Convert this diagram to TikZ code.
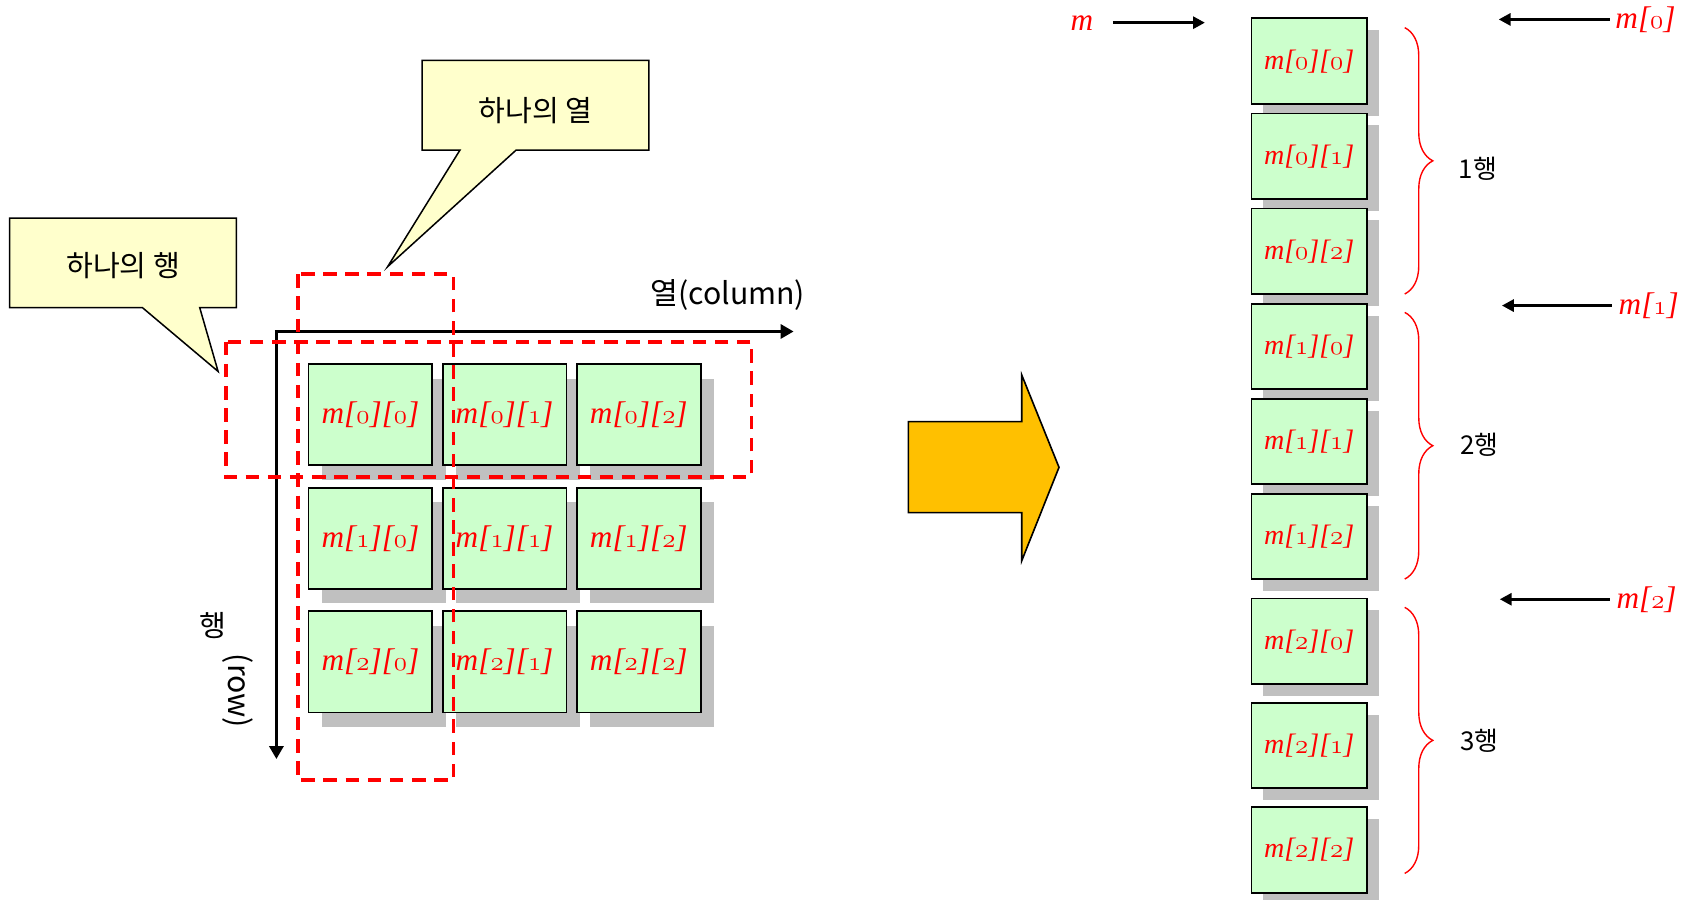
\documentclass[tikz,border=0pt]{standalone}
\usepackage{fontspec}
\newfontfamily\kr{Noto Sans CJK KR}
\newfontfamily\lser{Liberation Serif}
\usetikzlibrary{shadows,arrows.meta,decorations.pathreplacing}
\definecolor{cellgreen}{HTML}{CCFFCC}
\definecolor{shgray}{HTML}{C0C0C0}
\definecolor{callfill}{HTML}{FFFFCC}
\definecolor{bigorange}{HTML}{FFC000}
\newcommand\osn[1]{{\usefont{OML}{cmm}{m}{it}#1}}
\newcommand\mij[2]{\lser\itshape m[\osn{#1}][\osn{#2}]}
\newcommand\mi[1]{\lser\itshape m[\osn{#1}]}
\tikzset{
  lcell/.style={draw=black, line width=1.6pt, fill=cellgreen,
    minimum width=114.6pt, minimum height=93.7pt, inner sep=0pt,
    font=\fontsize{29}{29}\selectfont, text=red,
    drop shadow={shadow xshift=12.5pt, shadow yshift=-13.5pt, opacity=1, fill=shgray, draw=none}},
  rcell/.style={draw=black, line width=1.6pt, fill=cellgreen,
    minimum width=107pt, minimum height=79.3pt, inner sep=0pt,
    font=\fontsize{26}{26}\selectfont, text=red,
    drop shadow={shadow xshift=11pt, shadow yshift=-11pt, opacity=1, fill=shgray, draw=none}},
  callout/.style={draw=black, line width=1.4pt, fill=callfill},
  kortext/.style={font=\kr\fontsize{27}{27}\selectfont, inner sep=0pt},
  kortextsm/.style={font=\kr\fontsize{24}{24}\selectfont, inner sep=0pt},
  reddash/.style={draw=red, line width=3.5pt, dash pattern=on 12.5pt off 8pt},
  axarr/.style={draw=black, line width=2.8pt, -{Triangle[length=12pt,width=13pt]}},
  blarr/.style={draw=black, line width=2.8pt, -{Triangle[length=11pt,width=11pt]}},
  rlab/.style={text=red, font=\fontsize{29}{29}\selectfont, inner sep=2pt},
  rbrace/.style={draw=red, line width=1.3pt, decorate, decoration={brace, amplitude=26pt}},
  bigarr/.style={draw=black, line width=1.5pt, fill=bigorange, line join=miter},
}
\begin{document}
\begin{tikzpicture}[x=1pt, y=-1pt]
\useasboundingbox (0,0) rectangle (1568,833);

% callouts
\draw[callout] (9,202) -- (219,202) -- (219,285) -- (185,285) -- (202,344) -- (132,285) -- (9,285) -- cycle;
\node[kortext] (rowcall) at (114,246) {하나의 행};
\draw[callout] (391,56) -- (601,56) -- (601,139) -- (478,139) -- (359,247) -- (426,139) -- (391,139) -- cycle;
\node[kortext] (colcall) at (496,102) {하나의 열};

% axes
\coordinate (O) at (256,307);
\coordinate (X) at (735,307);
\coordinate (Y) at (256,703);
\draw[axarr] ([xshift=-1.4pt]O) -- (X);
\draw[axarr] (O) -- (Y);
\node[kortext, font=\kr\fontsize{28}{28}\selectfont] (collab) at (674,273) {열(column)};
\node[kortext] (rowlab1) at (197,579) {행};
\node[kortext, font=\kr\fontsize{28}{28}\selectfont, rotate=-90] (rowlab2) at (220,640) {(row)};

% left grid
\node[lcell] (a00) at (343.1,383.9) {\mij00};
\node[lcell] (a01) at (467.3,383.9) {\mij01};
\node[lcell] (a02) at (591.6,383.9) {\mij02};
\node[lcell] (a10) at (343.1,498.5) {\mij10};
\node[lcell] (a11) at (467.3,498.5) {\mij11};
\node[lcell] (a12) at (591.6,498.5) {\mij12};
\node[lcell] (a20) at (343.1,613.0) {\mij20};
\node[lcell] (a21) at (467.3,613.0) {\mij21};
\node[lcell] (a22) at (591.6,613.0) {\mij22};

% dashed boxes
\draw[reddash] (209,316.5) rectangle (696,441.5);
\draw[reddash] (276,254) rectangle (420,722.4);

% big arrow
\draw[bigarr] (841.3,390.5) -- (946.3,390.5) -- (946.3,347.3) -- (980.8,432.8) -- (946.3,519.3) -- (946.3,474.8) -- (841.3,474.8) -- cycle;

% right column
\node[rcell] (b00) at (1212.5,56.65) {\mij00};
\node[rcell] (b01) at (1212.5,144.65) {\mij01};
\node[rcell] (b02) at (1212.5,232.65) {\mij02};
\node[rcell] (b10) at (1212.5,320.95) {\mij10};
\node[rcell] (b11) at (1212.5,408.85) {\mij11};
\node[rcell] (b12) at (1212.5,496.85) {\mij12};
\node[rcell] (b20) at (1212.5,593.85) {\mij20};
\node[rcell] (b21) at (1212.5,690.45) {\mij21};
\node[rcell] (b22) at (1212.5,787.35) {\mij22};

% braces
\draw[rbrace] (1301,25.6) -- (1301,272.3);
\draw[rbrace] (1301,289.3) -- (1301,536.3);
\draw[rbrace] (1301,562.5) -- (1301,808.9);
\node[kortextsm, anchor=west] (g1) at (1351,156) {1행};
\node[kortextsm, anchor=west] (g2) at (1352,412) {2행};
\node[kortextsm, anchor=west] (g3) at (1352,686) {3행};

% pointer labels
\node[rlab] (mlab) at (1002,21) {\lser\itshape m};
\coordinate (mtip) at (1116,21);
\draw[blarr, shorten <=16pt] (mlab.east) -- (mtip);
\node[rlab] (m0lab) at (1524,18) {\mi0};
\coordinate (m0tip) at (1388,18);
\draw[blarr, shorten <=3pt] (m0lab.west) -- (m0tip);
\node[rlab] (m1lab) at (1527,283) {\mi1};
\coordinate (m1tip) at (1391,283);
\draw[blarr, shorten <=4pt] (m1lab.west) -- (m1tip);
\node[rlab] (m2lab) at (1525,555) {\mi2};
\coordinate (m2tip) at (1389,555);
\draw[blarr, shorten <=4pt] (m2lab.west) -- (m2tip);
\end{tikzpicture}
\end{document}
